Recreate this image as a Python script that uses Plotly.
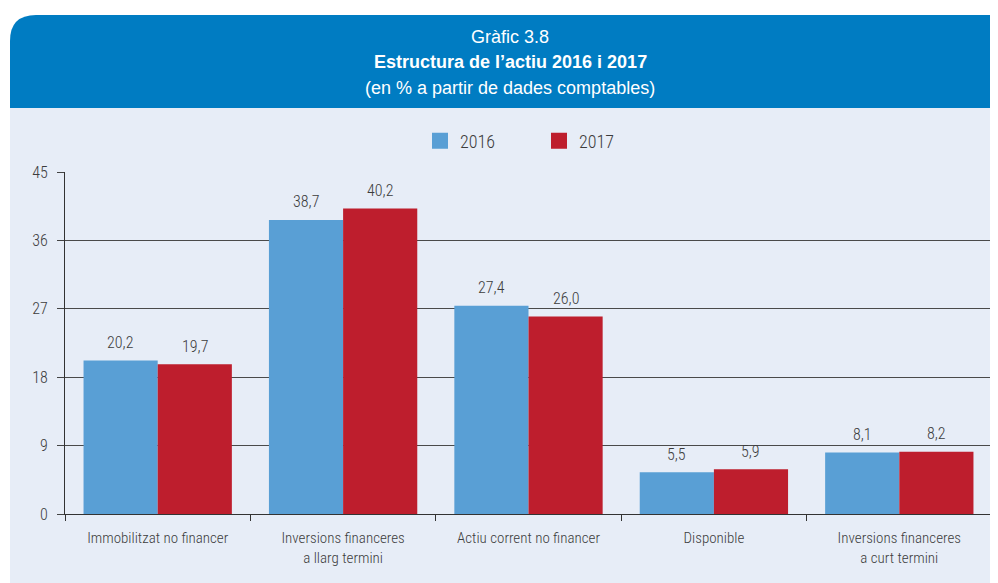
import plotly.graph_objects as go

CATEGORIES = [
    "Immobilitzat no financer",
    "Inversions financeres<br>a llarg termini",
    "Actiu corrent no financer",
    "Disponible",
    "Inversions financeres<br>a curt termini",
]
VALUES_2016 = [20.2, 38.7, 27.4, 5.5, 8.1]
VALUES_2017 = [19.7, 40.2, 26.0, 5.9, 8.2]
SERIES = ["2016", "2017"]
Y_TICKS = [0, 9, 18, 27, 36, 45]

COLORS = {"2016": "#599FD5", "2017": "#BE1E2D"}
HEADER_BLUE = "#007CC2"
PANEL_BG = "#E7EDF7"
TEXT_COLOR = "#3c3c3c"
FONT = "Roboto Condensed, Liberation Sans Narrow, sans-serif"
TITLE_FONT = "Liberation Sans, Arial, sans-serif"

W, H = 998, 583
OFF = 8  # page body margin: figure sits 8px in from the page corner
PLOT_L, PLOT_R, PLOT_T, PLOT_B = 65, 992, 172, 514  # page pixels


def px(x):
    return (x - PLOT_L) / (PLOT_R - PLOT_L)


def py(y):
    return (PLOT_B - y) / (PLOT_B - PLOT_T)


fig = go.Figure()

for name, vals in zip(SERIES, [VALUES_2016, VALUES_2017]):
    fig.add_trace(go.Bar(
        x=CATEGORIES, y=vals, name=name,
        marker=dict(color=COLORS[name], line=dict(width=0)),
        showlegend=False,
        hoverinfo="x+y",
    ))

# legend-only entries with bigger square swatches
for name in SERIES:
    fig.add_trace(go.Scatter(
        x=[None], y=[None], mode="markers", name=name,
        marker=dict(symbol="square", size=16, color=COLORS[name]),
    ))

# value labels above bars
annotations = []
for shift, vals in zip([-37, 37], [VALUES_2016, VALUES_2017]):
    for cat, v in zip(CATEGORIES, vals):
        annotations.append(dict(
            x=cat, y=v, xref="x", yref="y", xshift=shift, yshift=18,
            text=f"{v:.1f}".replace(".", ","), showarrow=False,
            font=dict(family=FONT, size=16, color=TEXT_COLOR, weight=300),
            yanchor="middle",
        ))

# header text
for y, txt in [
    (37, "Gràfic 3.8"),
    (62, "<b>Estructura de l’actiu 2016 i 2017</b>"),
    (88, "(en % a partir de dades comptables)"),
]:
    annotations.append(dict(
        x=px(510), y=py(y), xref="paper", yref="paper", text=txt, showarrow=False,
        font=dict(family=TITLE_FONT, size=18, color="white"), yanchor="middle", xanchor="center",
    ))

r = 26
x0, x1, yt, yb = px(10), px(1010), py(15), py(108)
header_path = (
    f"M {x0} {yb} L {x1} {yb} L {x1} {yt} L {px(10 + r)} {yt} "
    f"Q {x0} {yt} {x0} {py(15 + r)} Z"
)

shapes = [
    dict(type="rect", xref="paper", yref="paper", x0=px(10), x1=px(1010), y0=py(600), y1=py(108),
         fillcolor=PANEL_BG, line=dict(width=0), layer="below"),
    dict(type="path", xref="paper", yref="paper", path=header_path,
         fillcolor=HEADER_BLUE, line=dict(width=0), layer="below"),
]

fig.update_layout(
    width=W, height=H,
    margin=dict(l=PLOT_L - OFF, r=W - (PLOT_R - OFF), t=PLOT_T - OFF, b=H - (PLOT_B - OFF)),
    paper_bgcolor="white",
    plot_bgcolor="rgba(0,0,0,0)",
    barmode="group", bargap=0.2, bargroupgap=0,
    font=dict(family=FONT, size=15, color=TEXT_COLOR, weight=300),
    showlegend=True,
    legend=dict(
        orientation="h", x=px(539), xanchor="center", y=py(141), yanchor="middle",
        font=dict(family=FONT, size=18, color=TEXT_COLOR, weight=300),
        bgcolor="rgba(0,0,0,0)", entrywidth=74, entrywidthmode="pixels",
    ),
    annotations=annotations,
    shapes=shapes,
)

fig.update_xaxes(
    type="category", tickson="boundaries", ticks="outside", ticklen=6, tickcolor="#333",
    showline=True, linecolor="#333", linewidth=1, showgrid=False,
    tickfont=dict(family=FONT, size=15, color=TEXT_COLOR, weight=300), ticklabelstandoff=10,
    fixedrange=True,
)
fig.update_yaxes(
    range=[0, 45], tickvals=Y_TICKS, ticks="outside", ticklen=7, tickcolor="#444",
    showline=True, linecolor="#333", linewidth=1, mirror=True,
    showgrid=True, gridcolor="#4a4a4a", gridwidth=1, zeroline=False,
    tickfont=dict(family=FONT, size=16, color=TEXT_COLOR, weight=300), ticklabelstandoff=6,
    fixedrange=True,
)

fig.write_html("out.html")
